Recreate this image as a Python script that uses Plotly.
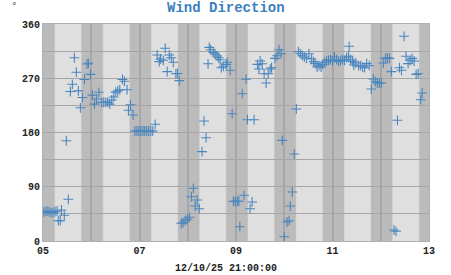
import pandas as pd
import plotly.graph_objects as go

# ---- data ----
start = pd.Timestamp("2025-12-05 00:00")
obs_hours = [
    0.0, 1.0, 2.0, 3.0, 4.0, 5.0, 6.0, 7.0, 7.6, 8.6, 9.2, 10.6, 11.6, 12.6,
    13.6, 14.6, 15.6, 16.6, 17.6, 18.6, 19.6, 20.6, 21.9, 22.6, 23.6, 24.6,
    25.6, 26.6, 27.8, 29.2, 30.2, 31.2, 32.2, 33.2, 34.2, 35.2, 36.2, 37.2,
    38.2, 39.5, 40.5, 41.8, 42.5, 43.5, 44.8,
    45.7, 46.7, 47.7, 48.7, 49.7, 50.6, 51.6, 52.6, 53.6, 54.6,
    55.8, 56.8, 57.8, 58.5, 59.8, 60.8, 61.8, 62.8, 63.8, 64.8, 66.1, 66.9,
    67.8, 68.8, 69.7, 70.8, 71.8, 72.8, 73.8, 74.8, 75.7, 76.7, 77.7, 79.1,
    80.1, 81.1, 82.1, 82.7, 83.4, 84.7, 85.6, 86.6, 87.4, 88.1, 88.7, 89.7,
    91.1, 91.7, 93.1, 94.1, 94.7, 95.6, 96.6, 97.4, 97.9, 99.1, 100.0, 101.0,
    101.7, 103.0, 104.0, 105.0, 106.7, 107.4, 108.0, 109.0, 110.0, 111.0,
    112.0, 113.0, 113.7, 115.4, 116.4, 117.4, 118.4, 119.0, 120.0, 121.4,
    122.4, 123.0, 124.0, 125.0, 126.0, 127.0, 128.0, 129.0, 130.0, 131.0,
    132.3, 133.6, 134.6, 135.3, 136.3, 137.3, 138.3, 139.0, 140.0, 141.0,
    142.0, 143.0, 144.0, 145.0, 146.0, 147.0, 148.0, 149.0, 150.0, 151.0,
    152.0, 152.3, 153.0, 154.0, 154.6, 155.6, 157.0, 158.0, 159.0, 160.0,
    161.0, 162.3, 163.3, 164.3, 165.3, 166.3, 167.3, 168.3, 169.3, 170.3,
    171.3, 172.3, 173.3, 174.6, 175.6, 176.3, 177.3, 178.3, 179.6, 180.6,
    181.6, 182.6, 183.6, 184.6, 185.6, 186.6, 187.9, 188.6,
]
wind_dir = [
    47.6, 48.6, 49.8, 48.6, 47.0, 47.0, 48.6, 49.8, 33.7, 33.7, 51.4, 42.6, 166.4, 69.2,
    248, 260, 304, 280, 249, 221, 238, 268, 293.6, 294.8, 276.5, 242,
    227, 235.6, 246.7, 230, 230, 230, 230, 227, 234, 239, 247, 249,
    251, 268, 265, 251, 217, 226, 209,
    182.5, 182.5, 182.5, 182.5, 182.5, 182.5, 182.5, 182.5, 182.5, 182.5,
    193.6, 308.6, 297.5, 302, 299.8, 319.7, 281, 308.6, 304, 296.5, 277.5, 278,
    266, 29.4, 30.4, 33.7, 36, 39.3, 73.5, 87.4, 58, 68, 53.6, 148.2,
    199, 171.4, 294, 321.3, 317.4, 313, 310, 307, 304, 300.8, 287.5, 289.8,
    293, 296.5, 283.2, 211.2, 65.9, 65.9, 65.9, 65.9, 23.7, 244.4, 75.8, 268.3,
    201.2, 53.6, 64.7, 201.2, 293, 285.3, 298.6, 294, 277.5, 262,
    277.5, 285.3, 287.5, 303, 307.4, 317.4, 310.7, 167, 7.1, 31.5,
    33.7, 58, 81.3, 144.3, 219, 314.1, 310.7, 307.4, 305.3, 303.1,
    310.7, 302, 297.5, 294.2, 288.7, 290.8, 288.7, 293.1, 296.5, 298.6,
    299.8, 300.8, 298.6, 305.3, 300.8, 297.5, 299.8, 300.8, 299.8, 304.1,
    306.4, 323, 300.8, 297.5, 292, 295.3, 290.8, 290.8, 288.7, 287.5,
    294.2, 290.8, 252.2, 268.8, 264.3, 262.1, 262.1, 262.1, 295.3, 303,
    304, 303, 281, 18.2, 16.1, 200.2, 287.5, 283.2, 339.6, 306.4,
    294.2, 299.8, 303, 298.6, 276.5, 277.5, 234.4, 245.5,
]
days = ["2025-12-05", "2025-12-06", "2025-12-07", "2025-12-08",
        "2025-12-09", "2025-12-10", "2025-12-11", "2025-12-12"]
sunrise = "06:00"
sunset = "18:55"
x_tick_days = ["2025-12-05", "2025-12-06", "2025-12-07", "2025-12-08", "2025-12-09",
               "2025-12-10", "2025-12-11", "2025-12-12", "2025-12-13"]
x_tick_text = ["05", "", "07", "", "09", "", "11", "", "13"]
y_tick_vals = [0, 45, 90, 135, 180, 225, 270, 315, 360]
y_tick_text = ["0", "", "90", "", "180", "", "270", "", "360"]
title_text = "Wind Direction"
footer_text = "12/10/25 21:00:00"

times = [start + pd.Timedelta(hours=h) for h in obs_hours]

NIGHT = "#BBBBBB"
TWI = "#D2D2D2"
DAY = "#DFDFDF"
GRID = "#A6A6A6"
BLUE = "#4A86BE"
FONT = "Liberation Mono"

fig = go.Figure()
fig.add_trace(go.Scatter(
    x=times, y=wind_dir, mode="markers",
    marker=dict(symbol="cross-thin", size=7, line=dict(width=1.1, color=BLUE), color=BLUE),
    hoverinfo="x+y", showlegend=False,
))

shapes = []
for d in days:
    sr = pd.Timestamp(f"{d} {sunrise}")
    ss = pd.Timestamp(f"{d} {sunset}")
    half = pd.Timedelta(minutes=15)
    shapes.append(dict(type="rect", xref="x", yref="paper", x0=sr - half, x1=ss + half,
                       y0=0, y1=1, fillcolor=TWI, line=dict(width=0), layer="below"))
    shapes.append(dict(type="rect", xref="x", yref="paper", x0=sr, x1=ss,
                       y0=0, y1=1, fillcolor=DAY, line=dict(width=0), layer="below"))

fig.update_layout(
    width=451, height=275,
    margin=dict(l=43, r=22, t=24, b=34),
    paper_bgcolor="white", plot_bgcolor=NIGHT,
    shapes=shapes,
    font=dict(family=FONT, size=10, color="#222222"),
    annotations=[
        dict(text=f"<b>{title_text}</b>", xref="paper", yref="paper", x=0.473, y=1.075,
             xanchor="center", yanchor="middle", showarrow=False,
             font=dict(family=FONT, size=14, color="#3E7FBF")),
        dict(text="°", xref="paper", yref="paper", x=-0.075, y=1.085,
             xanchor="center", yanchor="middle", showarrow=False,
             font=dict(family="DejaVu Sans", size=9, color="#444444")),
        dict(text=f"<b>{footer_text}</b>", xref="paper", yref="paper", x=0.474, y=-0.127,
             xanchor="center", yanchor="middle", showarrow=False,
             font=dict(family=FONT, size=10, color="#222222")),
    ],
)
fig.update_xaxes(
    range=[pd.Timestamp(x_tick_days[0]), pd.Timestamp(x_tick_days[-1])],
    tickvals=[pd.Timestamp(d) for d in x_tick_days], ticktext=x_tick_text,
    showgrid=True, gridcolor=GRID, gridwidth=1.5,
    showline=True, linecolor="#B0B0B0", linewidth=1, mirror=True,
    ticks="", tickfont=dict(family=FONT, size=10, color="#222222", weight="bold"),
    zeroline=False, fixedrange=True,
)
fig.update_yaxes(
    range=[0, 360], tickvals=y_tick_vals, ticktext=y_tick_text,
    showgrid=True, gridcolor=GRID, gridwidth=1.2,
    showline=True, linecolor="#B0B0B0", linewidth=1, mirror=True,
    ticks="", tickfont=dict(family=FONT, size=10, color="#222222", weight="bold"),
    zeroline=False, fixedrange=True,
)

fig.write_html("out.html")
